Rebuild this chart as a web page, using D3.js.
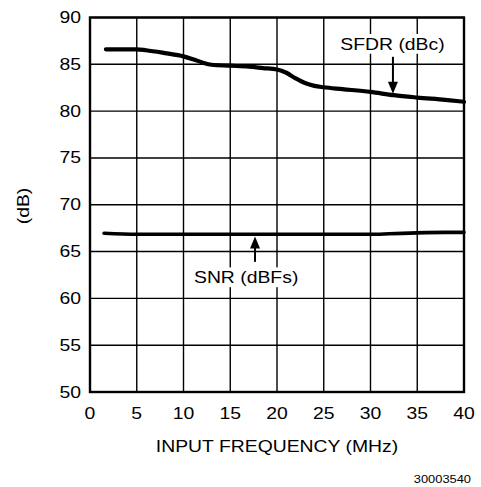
<!DOCTYPE html>
<html><head><meta charset="utf-8">
<script src="https://cdn.jsdelivr.net/npm/d3@7"></script>
<style>
html,body{margin:0;padding:0;background:#fff;}
svg text{font-family:"Liberation Sans",Arial,Helvetica,sans-serif;fill:#000;}
</style></head>
<body><svg id="c" width="481" height="487"></svg>
<script>
const xTicks = [0,5,10,15,20,25,30,35,40];
const yTicks = [50,55,60,65,70,75,80,85,90];
const sfdrFreq = [1.7, 5, 6, 8, 10, 11, 12, 13, 15, 17, 18.5, 20, 21, 22, 23, 24, 25, 27, 30, 32.5, 35, 38, 40];
const sfdrVals = [86.6, 86.6, 86.5, 86.2, 85.85, 85.55, 85.2, 84.95, 84.85, 84.75, 84.6, 84.45, 84.1, 83.5, 83.0, 82.7, 82.55, 82.35, 82.05, 81.7, 81.45, 81.2, 81.0];
const snrFreq = [1.5, 5, 10, 15, 20, 25, 30, 32, 35, 38, 40];
const snrVals = [66.95, 66.85, 66.85, 66.85, 66.85, 66.85, 66.85, 66.9, 67.0, 67.05, 67.05];
const labels = [
  {text:"SFDR (dBc)", x:32.35, y:86.53, ax:32.4, ay0:85.8, ay1:81.85},
  {text:"SNR (dBFs)", x:16.7, y:61.6, ax:17.65, ay0:63.9, ay1:66.6}
];
const xTitle = "INPUT FREQUENCY (MHz)";
const yTitle = "(dB)";
const figId = "30003540";

const svg = d3.select("#c");
const L=90, R=464, T=17.5, B=392;
const x = d3.scaleLinear().domain([0,40]).range([L,R]);
const y = d3.scaleLinear().domain([50,90]).range([B,T]);

// grid
const g = svg.append("g");
g.selectAll("line.v").data(xTicks).enter().append("line")
  .attr("x1",d=>x(d)).attr("x2",d=>x(d)).attr("y1",T).attr("y2",B)
  .attr("stroke","#000").attr("stroke-width",1.4);
g.selectAll("line.h").data(yTicks).enter().append("line")
  .attr("y1",d=>y(d)).attr("y2",d=>y(d)).attr("x1",L).attr("x2",R)
  .attr("stroke","#000").attr("stroke-width",1.4);
g.append("rect").attr("x",L).attr("y",T).attr("width",R-L).attr("height",B-T)
  .attr("fill","none").attr("stroke","#000").attr("stroke-width",2.4);

// axes labels
const fs = 17.3, sx = 1.12;
function txt(tx,ty,s,anchor,size,parent){
  return (parent||svg).append("g").attr("transform",`translate(${tx},${ty}) scale(${sx},1)`)
    .append("text").attr("text-anchor",anchor).attr("font-size",size||fs).text(s);
}
yTicks.forEach(d=>txt(81,y(d)+5.5,String(d),"end"));
xTicks.forEach(d=>txt(x(d),419,String(d),"middle"));
txt(277,452,xTitle,"middle");
svg.append("g").attr("transform",`translate(28.5,206) rotate(-90) scale(${sx},1)`)
  .append("text").attr("text-anchor","middle").attr("font-size",fs).text(yTitle);
txt(471,483,figId,"end",11.5);

// series
const line = d3.line().x(d=>x(d[0])).y(d=>y(d[1])).curve(d3.curveMonotoneX);
svg.append("path").datum(sfdrFreq.map((f,i)=>[f,sfdrVals[i]]))
  .attr("d",line).attr("fill","none").attr("stroke","#000").attr("stroke-width",4.2).attr("stroke-linecap","round");
svg.append("path").datum(snrFreq.map((f,i)=>[f,snrVals[i]]))
  .attr("d",line).attr("fill","none").attr("stroke","#000").attr("stroke-width",3.6).attr("stroke-linecap","round");

// annotations
labels.forEach(l=>{
  const grp = svg.append("g");
  const bg = grp.append("rect").attr("fill","#fff");
  const t = txt(x(l.x), y(l.y), l.text, "middle", fs, grp);
  const bb = t.node().getBBox();
  const w = bb.width*sx + 6, h = bb.height;
  bg.attr("x", x(l.x)-w/2).attr("y", y(l.y)+bb.y).attr("width", w).attr("height", h);
  const ax=x(l.ax), a0=y(l.ay0), a1=y(l.ay1);
  const dir = a1>a0?1:-1;
  svg.append("line").attr("x1",ax).attr("x2",ax).attr("y1",a0).attr("y2",a1-dir*8)
    .attr("stroke","#000").attr("stroke-width",2);
  svg.append("path").attr("d",`M${ax},${a1} L${ax-5},${a1-dir*12} L${ax+5},${a1-dir*12} Z`).attr("fill","#000");
});
</script></body></html>
